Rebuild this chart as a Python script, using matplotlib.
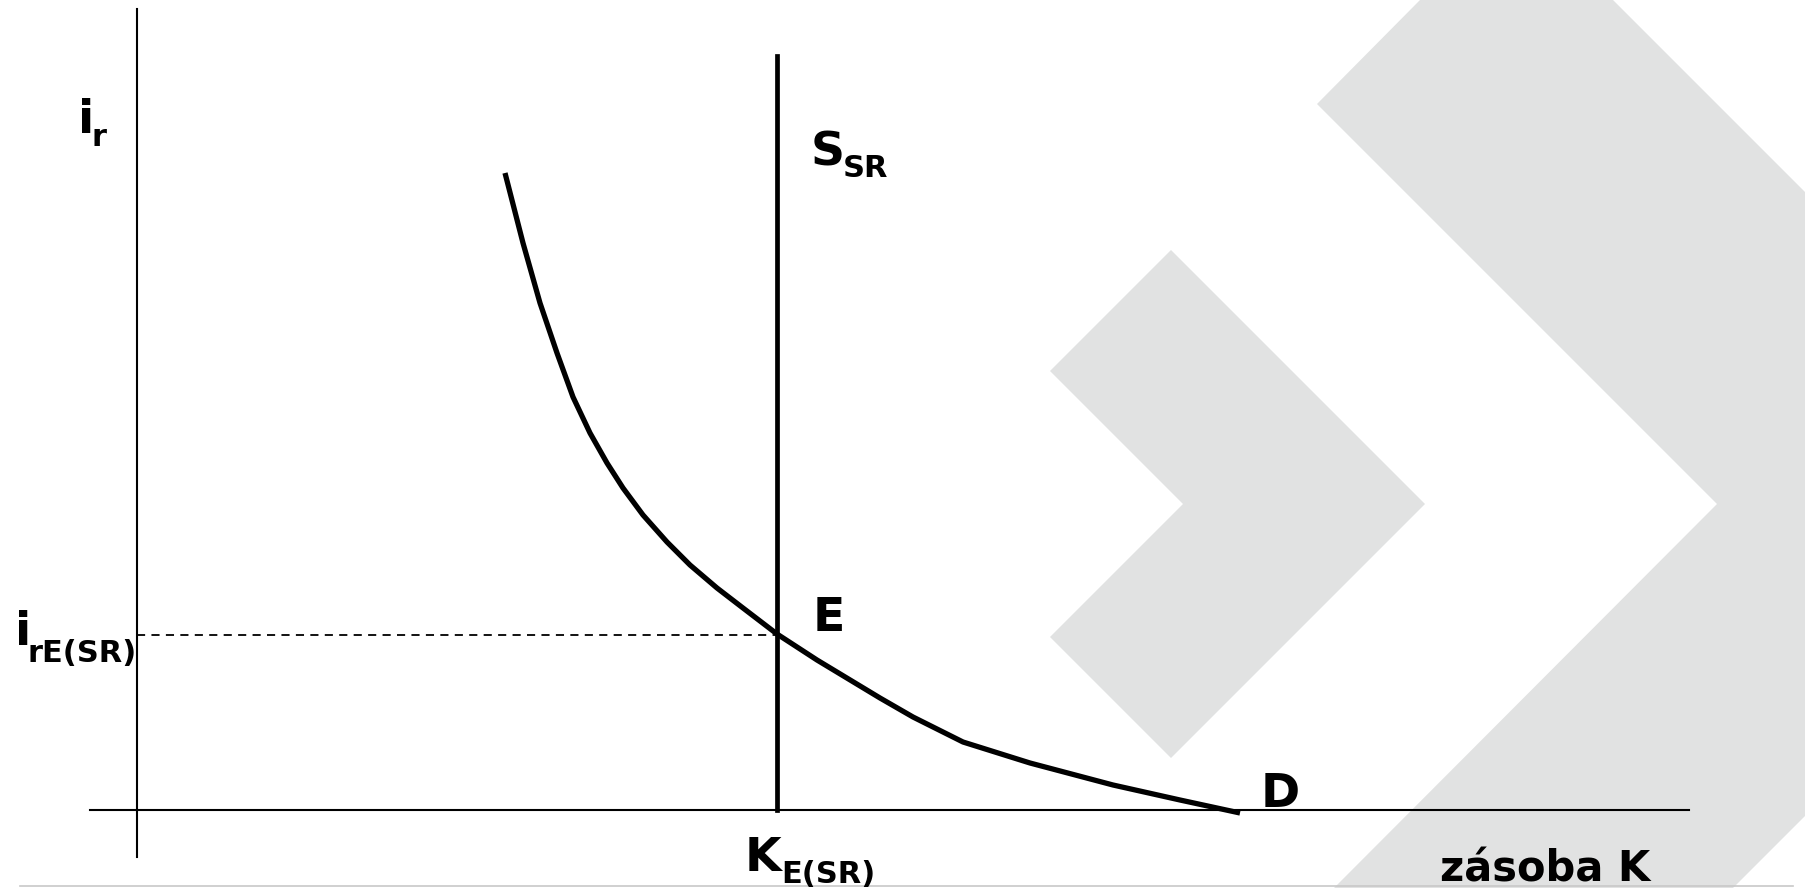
import matplotlib.pyplot as plt
from matplotlib.patches import Polygon

plt.rcParams['font.family'] = ['DejaVu Sans']

# demand curve D (capital stock K vs real interest rate i_r)
k_vals = [3.68, 3.86, 4.03, 4.20, 4.36, 4.53, 4.70, 4.86, 5.06, 5.30, 5.53,
          5.80, 6.06, 6.40, 6.80, 7.43, 7.76, 8.26, 8.93, 9.76, 10.43, 11.03]
i_vals = [6.37, 5.67, 5.07, 4.57, 4.13, 3.77, 3.47, 3.22, 2.95, 2.68, 2.45,
          2.22, 2.02, 1.76, 1.50, 1.12, 0.93, 0.68, 0.47, 0.25, 0.10, -0.03]

# short run supply (vertical) and equilibrium
k_eq = 6.40
i_eq = 1.75
s_top = 7.54

# background logo chevrons
big_chevron = [(12.83, 8.10), (11.80, 7.06), (15.80, 3.06), (11.97, -0.78),
               (15.96, -0.78), (19.80, 3.06), (14.76, 8.10)]
small_chevron = [(10.34, 5.60), (12.88, 3.06), (10.34, 0.52), (9.13, 1.73),
                 (10.46, 3.06), (9.13, 4.39)]

fig = plt.figure(figsize=(18.06, 8.88), dpi=100)
ax = fig.add_axes([0, 0, 1, 1])
ax.set_xlim(-1.37, 16.69)
ax.set_ylim(-0.78, 8.10)
ax.axis('off')

gray = '#e1e2e2'
ax.add_patch(Polygon(big_chevron, closed=True, fc=gray, ec='none', zorder=0))
ax.add_patch(Polygon(small_chevron, closed=True, fc=gray, ec='none', zorder=0))

# bottom thin line
ax.plot([-1.17, 16.56], [-0.76, -0.76], color='#c8c8c8', lw=1.2, zorder=1)

# axes
ax.plot([0, 0], [-0.47, 8.01], color='black', lw=1.5, zorder=2)
ax.plot([-0.47, 15.52], [0, 0], color='black', lw=1.5, zorder=2)

# dashed equilibrium line
ax.plot([0, k_eq], [i_eq, i_eq], color='black', lw=1.3, ls=(0, (4.5, 3.5)), zorder=2)

# S_SR
ax.plot([k_eq, k_eq], [0, s_top], color='black', lw=3.4, zorder=3)

# D curve
ax.plot(k_vals, i_vals, color='black', lw=3.8, solid_capstyle='butt',
        solid_joinstyle='round', zorder=3)

big = 34
sub = 22
kw = dict(fontweight='bold', color='black', va='baseline', ha='left', zorder=4)

ax.text(-0.59, 6.77, 'i', fontsize=big, **kw)
ax.text(-0.45, 6.64, 'r', fontsize=sub, **kw)

ax.text(6.74, 6.44, 'S', fontsize=big, **kw)
ax.text(7.06, 6.33, 'SR', fontsize=sub, **kw)

ax.text(6.76, 1.79, 'E', fontsize=big, **kw)
ax.text(11.24, 0.03, 'D', fontsize=big, **kw)

ax.text(-1.22, 1.65, 'i', fontsize=big, **kw)
ax.text(-1.09, 1.48, 'rE(SR)', fontsize=sub, **kw)

ax.text(6.08, -0.61, 'K', fontsize=big, **kw)
ax.text(6.44, -0.73, 'E(SR)', fontsize=sub, **kw)

ax.text(13.03, -0.71, 'zásoba K', fontsize=30, **kw)

fig.savefig('out.png', dpi=100)
